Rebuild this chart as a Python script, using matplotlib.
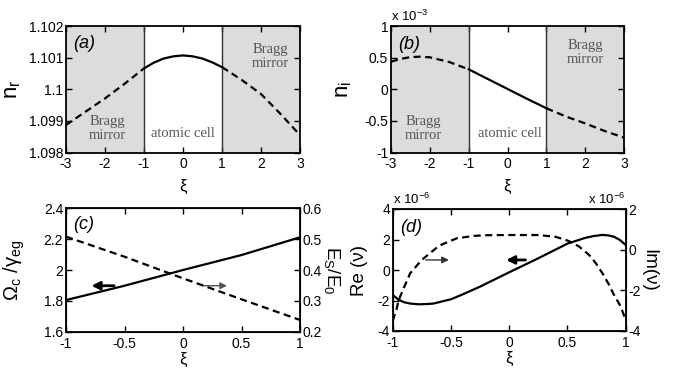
import matplotlib
matplotlib.use("Agg")
from matplotlib import pyplot as plt

plt.rcParams['font.family'] = ['Liberation Sans', 'DejaVu Sans']
plt.rcParams['mathtext.fontset'] = 'custom'
plt.rcParams['mathtext.rm'] = 'Liberation Sans'
plt.rcParams['mathtext.it'] = 'Liberation Sans:italic'
plt.rcParams['axes.unicode_minus'] = False
plt.rcParams['xtick.direction'] = 'in'
plt.rcParams['ytick.direction'] = 'in'
plt.rcParams['xtick.labelsize'] = 10
plt.rcParams['ytick.labelsize'] = 10

# (a) real part of refractive index
xa = [-3, -2.5, -2, -1.5, -1, -0.75, -0.5, -0.25, 0, 0.25, 0.5, 0.75, 1, 1.5, 2, 2.5, 3]
nr = [1.09887, 1.09929, 1.09971, 1.10017, 1.10066, 1.10084, 1.10097, 1.10104, 1.10107,
      1.10104, 1.10097, 1.10085, 1.10070, 1.10030, 1.09985, 1.09922, 1.09855]

# (b) imaginary part (x 1e-3)
xb = [-3, -2.75, -2.5, -2.25, -2, -1.5, -1, -0.5, 0, 0.5, 1, 1.5, 2, 2.5, 3]
ni = [0.436, 0.48, 0.508, 0.515, 0.505, 0.43, 0.315, 0.16, 0.005, -0.15,
      -0.30, -0.43, -0.54, -0.66, -0.765]

# (c) coupling field and signal field
xc = [-1, -0.5, 0, 0.5, 1]
omega = [1.805, 1.898, 2.0, 2.097, 2.212]
es = [0.508, 0.443, 0.373, 0.305, 0.238]

# (d) Re and Im of nu (x 1e-6)
xd_re = [-1, -0.95, -0.9, -0.85, -0.78, -0.7, -0.65, -0.5, -0.4, -0.25, 0, 0.25, 0.5,
         0.65, 0.72, 0.8, 0.85, 0.9, 0.95, 1]
re_nu = [-1.64, -1.95, -2.12, -2.2, -2.25, -2.23, -2.2, -1.92, -1.6, -1.09, -0.15, 0.77,
         1.73, 2.1, 2.22, 2.3, 2.27, 2.18, 1.97, 1.64]
xd_im = [-1, -0.97, -0.95, -0.9, -0.85, -0.75, -0.6, -0.45, -0.3, -0.2, 0, 0.1, 0.25,
         0.4, 0.5, 0.55, 0.6, 0.65, 0.7, 0.75, 0.8, 0.85, 0.9, 0.95, 0.97, 1]
im_nu = [-3.5, -3.0, -2.5, -1.82, -1.16, -0.5, 0.2, 0.56, 0.68, 0.71, 0.72, 0.72, 0.72,
         0.63, 0.45, 0.32, 0.15, -0.08, -0.34, -0.72, -1.16, -1.65, -2.23, -2.72,
         -3.0, -3.46]

W, H = 673, 377
fig = plt.figure(figsize=(W / 100, H / 100), dpi=100)


def box(l, r, t, b):
    return [l / W, 1 - b / H, (r - l) / W, (b - t) / H]


gray_fill = '#dcdcdc'
txt_gray = '#555555'
DASH = (3.2, 2)


def split_plot(ax, x, y):
    inner = [i for i in range(len(x)) if -1 <= x[i] <= 1]
    left = [i for i in range(len(x)) if x[i] <= -1]
    right = [i for i in range(len(x)) if x[i] >= 1]
    ax.plot([x[i] for i in inner], [y[i] for i in inner], 'k-', lw=1.6)
    ax.plot([x[i] for i in left], [y[i] for i in left], 'k--', lw=1.6, dashes=DASH)
    ax.plot([x[i] for i in right], [y[i] for i in right], 'k--', lw=1.6, dashes=DASH)


def bragg(ax, ltxt, rtxt, atxt):
    ax.axvspan(-3, -1, color=gray_fill, lw=0, zorder=0)
    ax.axvspan(1, 3, color=gray_fill, lw=0, zorder=0)
    ax.axvline(-1, color='#333333', lw=1)
    ax.axvline(1, color='#333333', lw=1)
    kw = dict(transform=ax.transAxes, ha='center', va='center', color=txt_gray,
              family='Liberation Serif', fontsize=10.5, linespacing=1.1)
    ax.text(ltxt[0], ltxt[1], 'Bragg\nmirror', **kw)
    ax.text(rtxt[0], rtxt[1], 'Bragg\nmirror', **kw)
    ax.text(atxt[0], atxt[1], 'atomic cell', **kw)


def style(ax, right=True):
    for s in ax.spines.values():
        s.set_linewidth(1.3)
    ax.tick_params(top=True, right=right, length=4, width=1, pad=2)
    ax.tick_params(axis='x', pad=3.5)


def right_label(ax, s, x):
    ax.text(x, 0.5, s, transform=ax.transAxes, rotation=-90, ha='center',
            va='center', fontsize=13.5)


# panel (a)
ax = fig.add_axes(box(66, 300, 26, 152.5))
bragg(ax, (0.175, 0.186), (0.875, 0.755), (0.5, 0.154))
split_plot(ax, xa, nr)
ax.set_xlim(-3, 3)
ax.set_ylim(1.098, 1.102)
ax.set_xticks([-3, -2, -1, 0, 1, 2, 3])
ax.set_yticks([1.098, 1.099, 1.1, 1.101, 1.102])
ax.set_yticklabels(['1.098', '1.099', '1.1', '1.101', '1.102'])
style(ax)
ax.set_xlabel('ξ', fontsize=12)
ax.xaxis.set_label_coords(0.5, -0.21)
ax.set_ylabel('n$_\\mathregular{r}$', fontsize=16)
ax.yaxis.set_label_coords(-0.185, 0.5)
ax.text(0.03, 0.865, '(a)', transform=ax.transAxes, fontsize=13, style='italic',
        va='center')

# panel (b)
ax = fig.add_axes(box(391, 624, 26, 152.5))
bragg(ax, (0.137, 0.186), (0.833, 0.787), (0.51, 0.154))
split_plot(ax, xb, ni)
ax.set_xlim(-3, 3)
ax.set_ylim(-1, 1)
ax.set_xticks([-3, -2, -1, 0, 1, 2, 3])
ax.set_yticks([-1, -0.5, 0, 0.5, 1])
ax.set_yticklabels(['-1', '-0.5', '0', '0.5', '1'])
style(ax)
ax.set_xlabel('ξ', fontsize=12)
ax.xaxis.set_label_coords(0.5, -0.21)
ax.set_ylabel('n$_\\mathregular{i}$', fontsize=16)
ax.yaxis.set_label_coords(-0.16, 0.5)
ax.text(0.03, 0.85, '(b)', transform=ax.transAxes, fontsize=13, style='italic',
        va='center')
ax.text(0.0, 1.015, 'x 10$^{-3}$', transform=ax.transAxes, fontsize=9.5, va='bottom')

# panel (c)
ax = fig.add_axes(box(66, 300, 208.3, 331.7))
ax.plot(xc, omega, 'k-', lw=1.6)
ax.set_xlim(-1, 1)
ax.set_ylim(1.6, 2.4)
ax.set_xticks([-1, -0.5, 0, 0.5, 1])
ax.set_xticklabels(['-1', '-0.5', '0', '0.5', '1'])
ax.set_yticks([1.6, 1.8, 2, 2.2, 2.4])
ax.set_yticklabels(['1.6', '1.8', '2', '2.2', '2.4'])
style(ax, right=False)
ax.set_xlabel('ξ', fontsize=12)
ax.xaxis.set_label_coords(0.5, -0.16)
ax.set_ylabel('Ω$_\\mathregular{c}$ /γ$_\\mathregular{eg}$', fontsize=14.5)
ax.yaxis.set_label_coords(-0.165, 0.5)
ax.text(0.03, 0.87, '(c)', transform=ax.transAxes, fontsize=13, style='italic',
        va='center')
ax.annotate('', xy=(-0.806, 1.898), xytext=(-0.565, 1.898),
            arrowprops=dict(arrowstyle='-|>', lw=2, color='k', mutation_scale=12))
ax.annotate('', xy=(0.40, 1.898), xytext=(0.146, 1.898),
            arrowprops=dict(arrowstyle='-|>', lw=1, color=txt_gray, mutation_scale=10))
ax2 = ax.twinx()
ax2.plot(xc, es, 'k--', lw=1.6, dashes=DASH)
ax2.set_ylim(0.2, 0.6)
ax2.set_yticks([0.2, 0.3, 0.4, 0.5, 0.6])
ax2.tick_params(direction='in', length=4, width=1, pad=2)
right_label(ax2, 'E$_\\mathregular{S}$/E$_\\mathregular{0}$', 1.135)

# panel (d)
ax = fig.add_axes(box(392.7, 625.7, 209, 331))
ax.plot(xd_re, re_nu, 'k-', lw=1.6)
ax.set_xlim(-1, 1)
ax.set_ylim(-4, 4)
ax.set_xticks([-1, -0.5, 0, 0.5, 1])
ax.set_xticklabels(['-1', '-0.5', '0', '0.5', '1'])
ax.set_yticks([-4, -2, 0, 2, 4])
style(ax, right=False)
ax.set_xlabel('ξ', fontsize=12)
ax.xaxis.set_label_coords(0.5, -0.16)
ax.set_ylabel('Re (ν)', fontsize=13.5)
ax.yaxis.set_label_coords(-0.105, 0.5)
ax.text(0.03, 0.85, '(d)', transform=ax.transAxes, fontsize=13, style='italic',
        va='center')
ax.text(0.0, 1.015, 'x 10$^{-6}$', transform=ax.transAxes, fontsize=9.5, va='bottom')
ax.annotate('', xy=(-0.494, 0.66), xytext=(-0.74, 0.66),
            arrowprops=dict(arrowstyle='-|>', lw=1, color='#333333', mutation_scale=10))
ax.annotate('', xy=(-0.05, 0.66), xytext=(0.164, 0.66),
            arrowprops=dict(arrowstyle='-|>', lw=2, color='k', mutation_scale=12))
ax2 = ax.twinx()
ax2.plot(xd_im, im_nu, 'k--', lw=1.6, dashes=DASH)
ax2.set_ylim(-4, 2)
ax2.set_yticks([-4, -2, 0, 2])
ax2.tick_params(direction='in', length=4, width=1, pad=2)
right_label(ax2, 'Im(ν)', 1.1)
ax2.text(1.0, 1.015, 'x 10$^{-6}$', transform=ax2.transAxes, fontsize=9.5, va='bottom',
         ha='right')

fig.savefig('out.png', dpi=100)
